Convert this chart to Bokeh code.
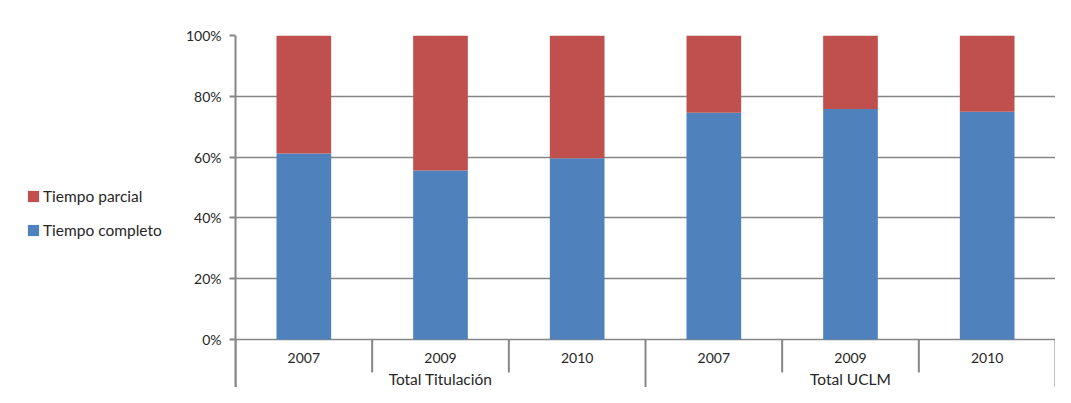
from bokeh.plotting import figure
from bokeh.layouts import row
from bokeh.models import (ColumnDataSource, FactorRange, Range1d, FixedTicker,
                          NumeralTickFormatter, Legend, LegendItem)
from bokeh.transform import dodge
from bokeh.core.properties import value
from bokeh.embed import file_html
from bokeh.resources import INLINE

# ---- data ----
groups = ["Total Titulación", "Total UCLM"]
years = ["2007", "2009", "2010"]
tiempo_completo = [0.612, 0.556, 0.596, 0.746, 0.758, 0.749]
tiempo_parcial = [0.388, 0.444, 0.404, 0.254, 0.242, 0.251]
y_ticks = [0, 0.2, 0.4, 0.6, 0.8, 1.0]

BLUE = "#4F81BD"
RED = "#C0504D"
GRAY = "#868686"
TXT = "#262626"
FONT = "Lato"

H = 387
Y_BOTTOM = -0.158

factors = [(g, y) for g in groups for y in years]
src = ColumnDataSource(dict(x=factors, completo=tiempo_completo, parcial=tiempo_parcial))

p = figure(width=880, height=H,
           x_range=FactorRange(*factors, group_padding=0, factor_padding=0,
                               subgroup_padding=0, range_padding=0),
           y_range=Range1d(Y_BOTTOM, 1.0),
           output_backend="svg", toolbar_location=None,
           x_axis_location=None,
           min_border_left=60, min_border_right=0,
           min_border_top=35, min_border_bottom=0)
p.outline_line_color = None
p.background_fill_color = "white"
p.border_fill_color = "white"

rs = p.vbar_stack(["completo", "parcial"], x="x", width=0.4, color=[BLUE, RED],
                  line_color=None, source=src)

# y axis
ticker = FixedTicker(ticks=y_ticks)
yax = p.yaxis[0]
yax.ticker = ticker
yax.formatter = NumeralTickFormatter(format="0%")
yax.axis_line_color = GRAY
yax.axis_line_width = 2
yax.major_tick_line_color = GRAY
yax.major_tick_line_width = 2
yax.major_tick_out = 6
yax.major_tick_in = 0
yax.minor_tick_line_color = None
yax.major_label_standoff = 8
yax.major_label_text_font = FONT
yax.major_label_text_font_size = "14px"
yax.major_label_text_color = TXT

p.xgrid.visible = False
p.ygrid[0].ticker = ticker
p.ygrid[0].grid_line_color = GRAY
p.ygrid[0].grid_line_width = 1.5

# category axis drawn below the 0% line
first_of_group = [i == 0 for g in groups for i, _ in enumerate(years)]
sep_src = ColumnDataSource(dict(
    f=factors,
    y1=[Y_BOTTOM if first else -0.1086 for first in first_of_group],
))
p.segment(x0=dodge("f", -0.5, range=p.x_range), x1=dodge("f", -0.5, range=p.x_range),
          y0=0, y1="y1", source=sep_src, line_color=GRAY, line_width=2)
end_src = ColumnDataSource(dict(f=[factors[-1]], y1=[Y_BOTTOM]))
p.segment(x0=dodge("f", 0.5, range=p.x_range), x1=dodge("f", 0.5, range=p.x_range),
          y0=0, y1="y1", source=end_src, line_color=GRAY, line_width=2)

lab_src = ColumnDataSource(dict(x=factors, t=[f[1] for f in factors]))
p.text(x="x", y=-0.0625, text="t", source=lab_src, text_align="center",
       text_baseline="middle", text_font=value(FONT), text_font_size="14px",
       text_color=TXT)
grp_src = ColumnDataSource(dict(x=[(g, years[1]) for g in groups], t=groups))
p.text(x="x", y=-0.131, text="t", source=grp_src, text_align="center",
       text_baseline="middle", text_font=value(FONT), text_font_size="15.5px",
       text_color=TXT)

# legend panel on the left (its bars lie outside the visible y range)
lp = figure(width=175, height=H,
            x_range=FactorRange(*factors, group_padding=0, factor_padding=0,
                                subgroup_padding=0, range_padding=0),
            y_range=Range1d(5, 6),
            output_backend="svg", toolbar_location=None,
            x_axis_location=None, y_axis_location=None,
            min_border_left=0, min_border_right=0,
            min_border_top=0, min_border_bottom=0)
lp.outline_line_color = None
lp.grid.visible = False
lrs = lp.vbar_stack(["completo", "parcial"], x="x", width=0.4, color=[BLUE, RED],
                    line_color=None, source=src)

legend = Legend(items=[LegendItem(label="Tiempo parcial", renderers=[lrs[1]]),
                       LegendItem(label="Tiempo completo", renderers=[lrs[0]])],
                location=(26, 148), glyph_width=14, glyph_height=14,
                label_standoff=3, spacing=16, padding=0, margin=0,
                border_line_color=None, background_fill_alpha=0,
                label_text_font=FONT, label_text_font_size="15.5px",
                label_text_color=TXT)
lp.add_layout(legend)

layout = row(lp, p, spacing=0)
open("out.html", "w").write(file_html(layout, INLINE))
